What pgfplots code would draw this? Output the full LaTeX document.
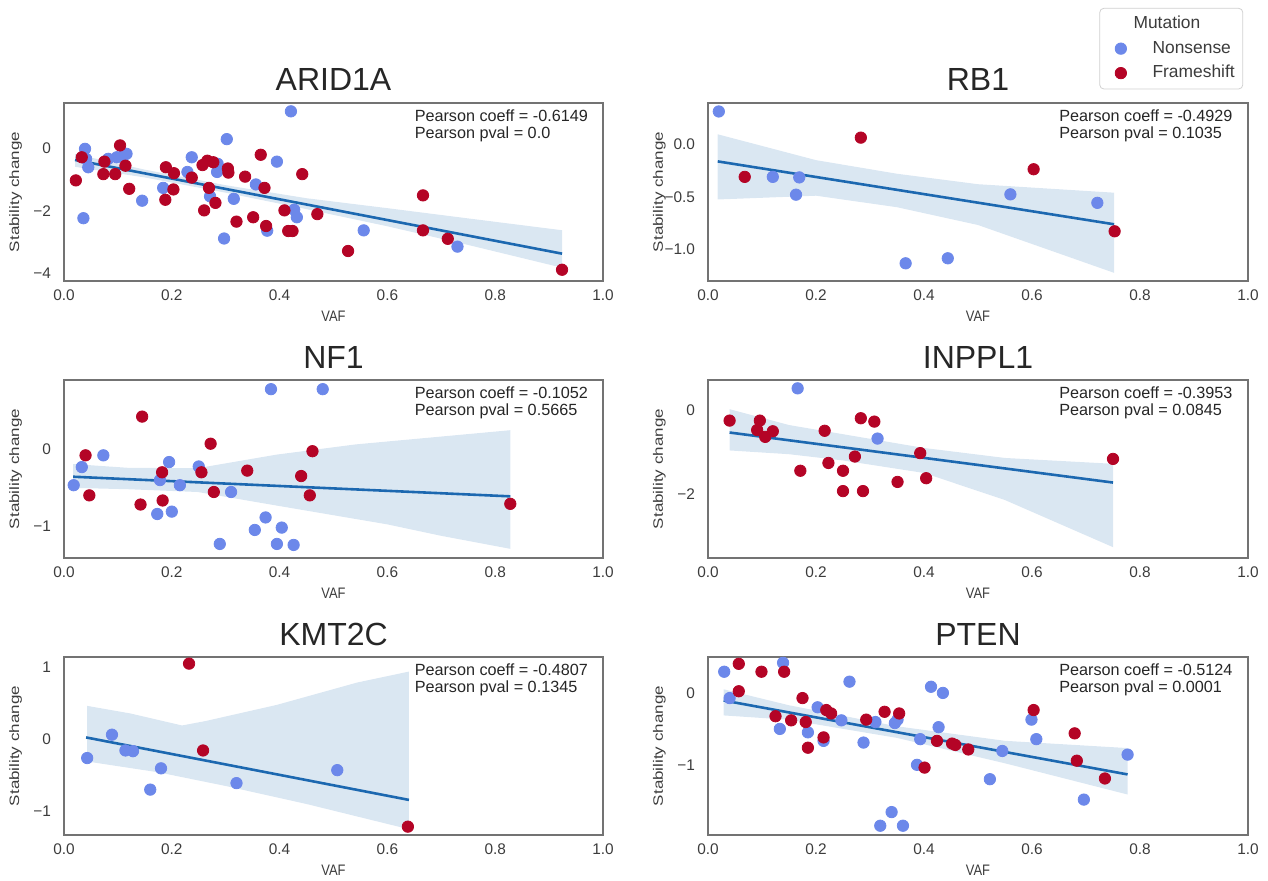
\documentclass[border=0pt]{standalone}
\usepackage{fontspec}
\setmainfont{Liberation Sans}
\usepackage{pgfplots}
\pgfplotsset{compat=1.18}
\definecolor{nons}{RGB}{108,136,234}
\definecolor{fram}{RGB}{180,4,38}
\definecolor{regc}{RGB}{28,104,176}
\definecolor{tickc}{RGB}{60,60,60}
\pgfplotsset{
  panel/.style={
    scale only axis, height=89pt, xmin=0, xmax=1,
    xtick={0,0.2,0.4,0.6,0.8,1}, xticklabels={0.0,0.2,0.4,0.6,0.8,1.0},
    tick style={draw=none}, major tick length=0pt,
    axis line style={draw=black!55, line width=0.7pt},
    ticklabel style={font=\fontsize{7.7}{9}\selectfont, text=tickc},
    xticklabel style={anchor=center, yshift=-7pt},
    yticklabel style={anchor=east, xshift=-3pt},
    xlabel={\scalebox{0.85}[1]{VAF}}, ylabel={\scalebox{1}[0.8]{Stability change}},
    xlabel style={font=\fontsize{7.6}{8}\selectfont, text=tickc, at={(axis description cs:0.5,-0.197)}, anchor=center},
    ylabel style={font=\fontsize{8.5}{9}\selectfont, text=tickc, at={(axis description cs:-0.09,0.5)}, anchor=center},
    title style={font=\fontsize{16}{18}\selectfont, text=black!85, at={(axis description cs:0.5,1)}, anchor=base},
    clip=false,
    /pgf/number format/assume math mode=true,
  },
  band/.style={fill=regc, fill opacity=0.16, draw=none, forget plot},
  regl/.style={regc, line width=1.3pt, forget plot},
  nonsp/.style={only marks, mark=*, mark size=2.85pt, color=nons, mark options={draw=none, fill=nons}, forget plot},
  framp/.style={only marks, mark=*, mark size=2.85pt, color=fram, mark options={draw=none, fill=fram}, forget plot},
}
\newcommand{\pear}[2]{\node[anchor=north west, align=left, inner sep=0pt, font=\fontsize{8.1}{8.8}\selectfont, text=black!85] at (rel axis cs:0.65,0.965) {Pearson coeff = #1\\Pearson pval = #2};}
\begin{document}
\begin{tikzpicture}
\useasboundingbox (0,0) rectangle (634pt,440pt);
% ARID1A
\begin{axis}[panel, width=269.5pt, at={(32pt,388.5pt)}, anchor=north west, title={ARID1A},
  ymin=-4.25, ymax=1.447, ytick={-4,-2,0}, yticklabels={−4,−2,0}]
\addplot[band] coordinates {(0.0205,-0.186) (0.15,-0.686) (0.3,-1.184) (0.45,-1.601) (0.6,-1.919) (0.75,-2.247) (0.924,-2.625)
 (0.924,-3.825) (0.75,-3.097) (0.6,-2.499) (0.45,-1.951) (0.3,-1.424) (0.15,-0.936) (0.0205,-0.596)} -- cycle;
\addplot[nonsp] coordinates {(0.039,-0.02) (0.041,-0.34) (0.045,-0.61) (0.036,-2.24) (0.082,-0.34) (0.098,-0.29) (0.11,-0.24) (0.116,-0.18) (0.145,-1.68) (0.184,-1.27) (0.237,-0.29) (0.229,-0.76) (0.302,0.29) (0.284,-0.76) (0.285,-0.5) (0.271,-1.54) (0.297,-2.89) (0.315,-1.62) (0.356,-1.16) (0.395,-0.43) (0.377,-2.64) (0.421,1.18) (0.427,-1.97) (0.432,-2.21) (0.556,-2.63) (0.73,-3.15)};
\addplot[framp] coordinates {(0.022,-1.03) (0.033,-0.29) (0.075,-0.43) (0.073,-0.83) (0.095,-0.83) (0.104,0.09) (0.114,-0.56) (0.121,-1.3) (0.189,-0.61) (0.188,-1.65) (0.204,-0.8) (0.203,-1.32) (0.237,-0.94) (0.26,-1.99) (0.257,-0.54) (0.266,-0.4) (0.277,-0.45) (0.269,-1.27) (0.281,-1.75) (0.304,-0.65) (0.305,-0.78) (0.32,-2.35) (0.336,-0.91) (0.351,-2.21) (0.365,-0.21) (0.372,-1.27) (0.375,-2.49) (0.409,-1.99) (0.416,-2.65) (0.424,-2.65) (0.442,-0.83) (0.47,-2.11) (0.527,-3.29) (0.666,-1.51) (0.666,-2.63) (0.712,-2.9) (0.924,-3.89)};
\addplot[regl] coordinates {(0.0205,-0.376) (0.924,-3.375)};
\pear{-0.6149}{0.0}
\end{axis}
% RB1
\begin{axis}[panel, width=270pt, at={(354pt,388.5pt)}, anchor=north west, title={RB1},
  ymin=-1.305, ymax=0.396, ytick={-1,-0.5,0}, yticklabels={−1.0,−0.5,0.0},
  legend style={at={(axis description cs:0.991,1.534)}, anchor=north east, draw=black!18, rounded corners=2pt, font=\fontsize{8.7}{10}\selectfont, text=tickc, row sep=0.6pt, inner sep=2pt},
  legend cell align=left]
\addplot[band] coordinates {(0.018,0.097) (0.2,-0.15) (0.35,-0.28) (0.5,-0.38) (0.752,-0.461)
 (0.752,-1.227) (0.5,-0.77) (0.35,-0.6) (0.2,-0.49) (0.018,-0.526)} -- cycle;
\addplot[nonsp] coordinates {(0.020,0.315) (0.120,-0.31) (0.169,-0.315) (0.163,-0.48) (0.366,-1.136) (0.444,-1.088) (0.560,-0.477) (0.721,-0.558)};
\addplot[framp] coordinates {(0.068,-0.31) (0.283,0.065) (0.603,-0.237) (0.753,-0.83)};
\addplot[regl] coordinates {(0.018,-0.162) (0.752,-0.763)};
\pear{-0.4929}{0.1035}
\addlegendimage{empty legend}\addlegendentry{\hspace*{1.5pt}Mutation}
\addlegendimage{only marks, mark=*, mark size=2.85pt, color=nons, mark options={draw=none, fill=nons}}\addlegendentry{\hspace*{11pt}Nonsense}
\addlegendimage{only marks, mark=*, mark size=2.85pt, color=fram, mark options={draw=none, fill=fram}}\addlegendentry{\hspace*{11pt}Frameshift}
\end{axis}
% NF1
\begin{axis}[panel, width=269.5pt, at={(32pt,250pt)}, anchor=north west, title={NF1},
  ymin=-1.42, ymax=0.91, ytick={-1,0}, yticklabels={−1,0}]
\addplot[band] coordinates {(0.017,-0.19) (0.12,-0.24) (0.248,-0.244) (0.394,-0.067) (0.541,0.067) (0.7,0.17) (0.828,0.253)
 (0.828,-1.30) (0.7,-1.13) (0.6,-0.98) (0.394,-0.733) (0.248,-0.556) (0.12,-0.52) (0.017,-0.502)} -- cycle;
\addplot[nonsp] coordinates {(0.384,0.79) (0.48,0.79) (0.018,-0.467) (0.033,-0.23) (0.073,-0.076) (0.178,-0.40) (0.173,-0.844) (0.195,-0.164) (0.2,-0.813) (0.215,-0.467) (0.25,-0.222) (0.31,-0.556) (0.289,-1.236) (0.354,-1.053) (0.374,-0.889) (0.395,-1.236) (0.404,-1.022) (0.426,-1.249)};
\addplot[framp] coordinates {(0.040,-0.076) (0.047,-0.6) (0.145,0.431) (0.142,-0.72) (0.182,-0.298) (0.183,-0.667) (0.255,-0.298) (0.272,0.076) (0.278,-0.556) (0.34,-0.276) (0.44,-0.347) (0.461,-0.022) (0.456,-0.6) (0.828,-0.711)};
\addplot[regl] coordinates {(0.017,-0.356) (0.828,-0.613)};
\pear{-0.1052}{0.5665}
\end{axis}
% INPPL1
\begin{axis}[panel, width=270pt, at={(354pt,250pt)}, anchor=north west, title={INPPL1},
  ymin=-3.54, ymax=0.73, ytick={-2,0}, yticklabels={−2,0}]
\addplot[band] coordinates {(0.04,0.03) (0.15,-0.35) (0.25,-0.57) (0.4,-0.9) (0.55,-1.14) (0.75,-1.28)
 (0.75,-3.28) (0.55,-2.15) (0.4,-1.5) (0.25,-1.2) (0.15,-1.05) (0.04,-0.96)} -- cycle;
\addplot[nonsp] coordinates {(0.166,0.53) (0.314,-0.675)};
\addplot[framp] coordinates {(0.040,-0.244) (0.096,-0.244) (0.091,-0.47) (0.106,-0.634) (0.12,-0.5) (0.171,-1.447) (0.216,-0.488) (0.223,-1.26) (0.25,-1.447) (0.25,-1.935) (0.272,-1.106) (0.283,-0.187) (0.287,-1.935) (0.308,-0.268) (0.351,-1.715) (0.393,-1.024) (0.404,-1.626) (0.75,-1.163)};
\addplot[regl] coordinates {(0.04,-0.53) (0.75,-1.73)};
\pear{-0.3953}{0.0845}
\end{axis}
% KMT2C
\begin{axis}[panel, width=269.5pt, at={(32pt,111.5pt)}, anchor=north west, title={KMT2C},
  ymin=-1.33, ymax=1.14, ytick={-1,0,1}, yticklabels={−1,0,1}]
\addplot[band] coordinates {(0.043,0.462) (0.123,0.357) (0.219,0.19) (0.263,0.252) (0.395,0.476) (0.544,0.786) (0.64,0.938)
 (0.64,-1.25) (0.45,-0.9) (0.3,-0.65) (0.175,-0.46) (0.043,-0.31)} -- cycle;
\addplot[nonsp] coordinates {(0.043,-0.262) (0.089,0.062) (0.114,-0.157) (0.128,-0.167) (0.16,-0.7) (0.18,-0.405) (0.32,-0.61) (0.507,-0.43)};
\addplot[framp] coordinates {(0.232,1.048) (0.258,-0.157) (0.638,-1.214)};
\addplot[regl] coordinates {(0.041,0.024) (0.640,-0.843)};
\pear{-0.4807}{0.1345}
\end{axis}
% PTEN
\begin{axis}[panel, width=270pt, at={(354pt,111.5pt)}, anchor=north west, title={PTEN},
  ymin=-1.958, ymax=0.495, ytick={-1,0}, yticklabels={−1,0}]
\addplot[band] coordinates {(0.029,0.05) (0.15,-0.17) (0.35,-0.46) (0.55,-0.66) (0.777,-0.76)
 (0.777,-1.40) (0.55,-0.97) (0.35,-0.62) (0.15,-0.37) (0.029,-0.31)} -- cycle;
\addplot[nonsp] coordinates {(0.030,0.292) (0.040,-0.071) (0.139,0.415) (0.262,0.155) (0.203,-0.198) (0.133,-0.496) (0.185,-0.543) (0.214,-0.661) (0.247,-0.378) (0.288,-0.684) (0.31,-0.401) (0.346,-0.415) (0.351,-0.368) (0.413,0.085) (0.435,0.0) (0.427,-0.472) (0.393,-0.637) (0.387,-0.991) (0.522,-1.189) (0.340,-1.642) (0.319,-1.83) (0.361,-1.83) (0.545,-0.80) (0.599,-0.368) (0.608,-0.637) (0.696,-1.47) (0.777,-0.85)};
\addplot[framp] coordinates {(0.057,0.401) (0.099,0.292) (0.141,0.292) (0.057,0.023) (0.175,-0.071) (0.125,-0.321) (0.154,-0.378) (0.181,-0.401) (0.185,-0.755) (0.214,-0.613) (0.219,-0.236) (0.228,-0.283) (0.293,-0.368) (0.327,-0.26) (0.354,-0.283) (0.401,-1.029) (0.424,-0.661) (0.452,-0.698) (0.458,-0.717) (0.482,-0.779) (0.603,-0.236) (0.679,-0.557) (0.683,-0.934) (0.735,-1.179)};
\addplot[regl] coordinates {(0.029,-0.104) (0.777,-1.123)};
\pear{-0.5124}{0.0001}
\end{axis}
\end{tikzpicture}
\end{document}
